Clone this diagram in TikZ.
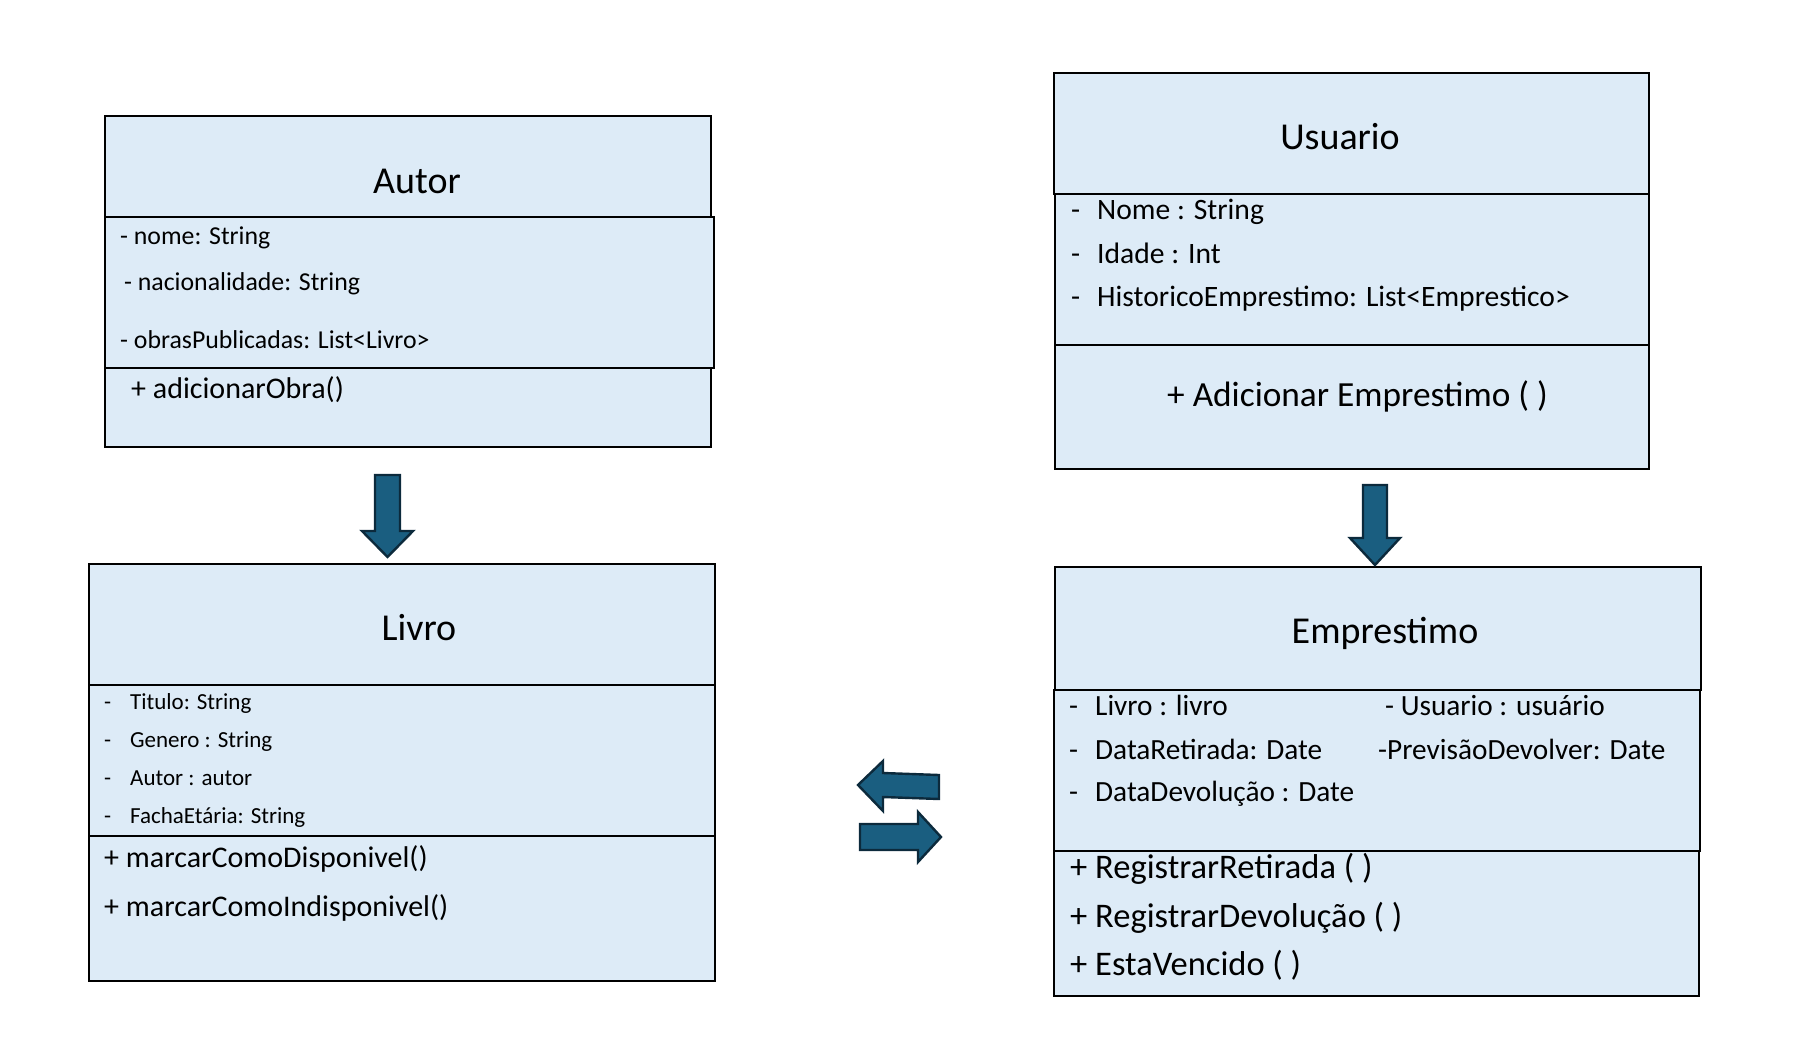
\documentclass[tikz,border=0pt]{standalone}
\usepackage{fontspec}
\setmainfont{Carlito}
\usetikzlibrary{positioning}

\definecolor{boxfill}{HTML}{DDEBF7}
\definecolor{arrowfill}{HTML}{1A5E80}
\definecolor{arrowline}{HTML}{0C2A3C}

\tikzset{
  compart/.style={draw=black,fill=boxfill,line width=1.5pt,anchor=north west,inner sep=0pt,outer sep=0pt},
  classname/.style={font=\fontsize{38}{42}\selectfont,inner sep=0pt},
  member/.style={anchor=west,inner sep=0pt,text height=0.7em,text depth=0.2em,yshift=-7pt},
  blockarrow/.style={fill=arrowfill,draw=arrowline,line width=2.4pt,line join=miter},
}

\begin{document}
\begin{tikzpicture}[x=1pt,y=-1pt]
  \useasboundingbox (0,0) rectangle (1808,1046);

  % Autor
  \node[compart,minimum width=606pt,minimum height=101pt] (autorHead) at (105,116) {};
  \node[compart,minimum width=609pt,minimum height=151pt] (autorAttr) at (105,217) {};
  \node[compart,minimum width=606pt,minimum height=79pt] (autorMeth) at (105,368) {};
  \node[classname] (autorName) at (417,181) {Autor};
  \node[member,font=\fontsize{25.8}{28}\selectfont] (autorA1) at (120,235) {- nome: String};
  \node[member,font=\fontsize{25.8}{28}\selectfont] (autorA2) at (124,281) {- nacionalidade: String};
  \node[member,font=\fontsize{25.8}{28}\selectfont] (autorA3) at (120,339) {- obrasPublicadas: List<Livro>};
  \node[member,font=\fontsize{30}{33}\selectfont] (autorM1) at (131,389) {+ adicionarObra()};

  % Livro
  \node[compart,minimum width=626pt,minimum height=121pt] (livroHead) at (89,564) {};
  \node[compart,minimum width=626pt,minimum height=151pt] (livroAttr) at (89,685) {};
  \node[compart,minimum width=626pt,minimum height=145pt] (livroMeth) at (89,836) {};
  \node[classname] (livroName) at (419,628) {Livro};
  \foreach \y/\n/\t in {700/1/{Titulo: String},738/2/{Genero : String},776/3/{Autor : autor},814/4/{FachaEtária: String}} {
    \node[member,font=\fontsize{23}{26}\selectfont] (livroD\n) at (104,\y) {-};
    \node[member,font=\fontsize{23}{26}\selectfont] (livroA\n) at (130,\y) {\t};
  }
  \node[member,font=\fontsize{30}{33}\selectfont] (livroM1) at (104,858) {+ marcarComoDisponivel()};
  \node[member,font=\fontsize{30}{33}\selectfont] (livroM2) at (104,907) {+ marcarComoIndisponivel()};

  % Usuario
  \node[compart,minimum width=595pt,minimum height=121pt] (usuarioHead) at (1054,73) {};
  \node[compart,minimum width=594pt,minimum height=151pt] (usuarioAttr) at (1055,194) {};
  \node[compart,minimum width=594pt,minimum height=124pt] (usuarioMeth) at (1055,345) {};
  \node[classname] (usuarioName) at (1340,137) {Usuario};
  \foreach \y/\n/\t in {210/1/{Nome : String},254/2/{Idade : Int},297/3/{HistoricoEmprestimo: List<Emprestico>}} {
    \node[member,font=\fontsize{29.6}{32}\selectfont] (usuarioD\n) at (1071,\y) {-};
    \node[member,font=\fontsize{29.6}{32}\selectfont] (usuarioA\n) at (1097,\y) {\t};
  }
  \node[member,font=\fontsize{35.3}{38}\selectfont] (usuarioM1) at (1167,397) {+ Adicionar Emprestimo ( )};

  % Emprestimo
  \node[compart,minimum width=646pt,minimum height=123pt] (emprestimoHead) at (1055,567) {};
  \node[compart,minimum width=646pt,minimum height=161pt] (emprestimoAttr) at (1054,690) {};
  \node[compart,minimum width=645pt,minimum height=145pt] (emprestimoMeth) at (1054,851) {};
  \node[classname] (emprestimoName) at (1385,633) {Emprestimo};
  \foreach \y/\n/\t in {706/1/{Livro : livro},750/2/{DataRetirada: Date},792/3/{DataDevolução : Date}} {
    \node[member,font=\fontsize{29.3}{32}\selectfont] (emprestimoD\n) at (1069,\y) {-};
    \node[member,font=\fontsize{29.3}{32}\selectfont] (emprestimoA\n) at (1095,\y) {\t};
  }
  \node[member,font=\fontsize{29.3}{32}\selectfont] (emprestimoA4) at (1385,706) {- Usuario : usuário};
  \node[member,font=\fontsize{29.3}{32}\selectfont] (emprestimoA5) at (1378,750) {-PrevisãoDevolver: Date};
  \foreach \y/\n/\t in {869/1/{+ RegistrarRetirada ( )},918/2/{+ RegistrarDevolução ( )},966/3/{+ EstaVencido ( )}} {
    \node[member,font=\fontsize{34.5}{37}\selectfont] (emprestimoM\n) at (1070,\y) {\t};
  }

  % block arrows
  \draw[blockarrow] (375,475) -- (400,475) -- (400,531) -- (413,531) -- (387.5,557)
    -- (362,531) -- (375,531) -- cycle;
  \draw[blockarrow] (1363,485) -- (1387,485) -- (1387,538) -- (1400,538) -- (1375,565)
    -- (1350,538) -- (1363,538) -- cycle;
  \draw[blockarrow] (939,775) -- (939,799) -- (883,797) -- (883,811) -- (858,785)
    -- (883,761) -- (883,773) -- cycle;
  \draw[blockarrow] (860,824) -- (918,824) -- (918,812) -- (941,837) -- (918,862)
    -- (918,850) -- (860,850) -- cycle;
\end{tikzpicture}
\end{document}
